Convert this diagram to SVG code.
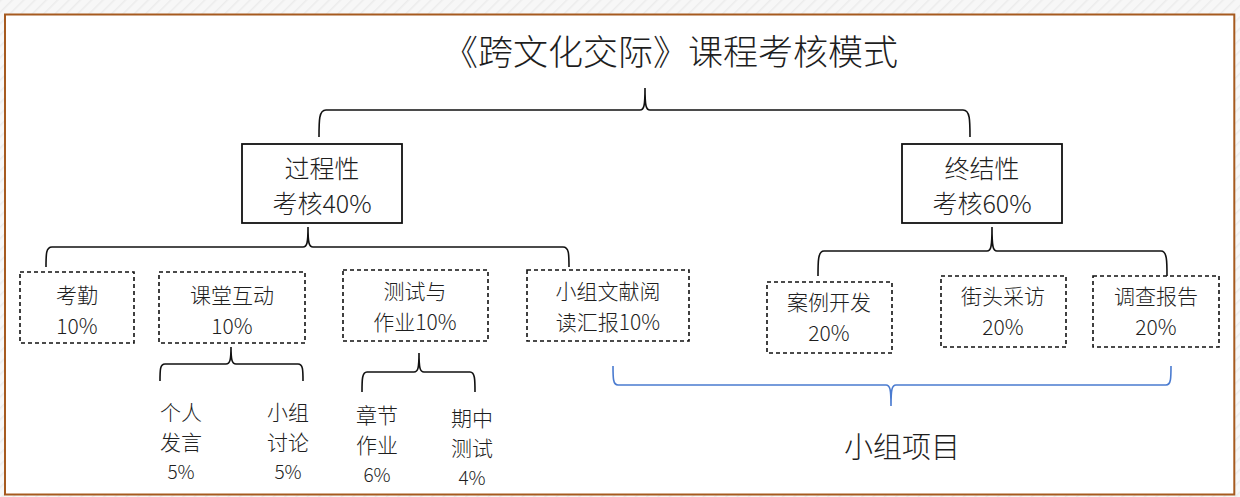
<svg xmlns="http://www.w3.org/2000/svg" width="1240" height="497" viewBox="0 0 1240 497">
<defs>
<pattern id="hatch" width="8" height="8" patternUnits="userSpaceOnUse" patternTransform="rotate(45)">
<rect width="8" height="8" fill="#f7f7f7"/>
<line x1="0" y1="0" x2="0" y2="8" stroke="#ececec" stroke-width="3"/>
</pattern>
<style>
.t{font-family:"Noto Sans CJK SC","Noto Sans",sans-serif;font-weight:300;fill:#1e1e1e;text-anchor:middle;dominant-baseline:central}
.solid{fill:#fff;stroke:#111;stroke-width:1.8}
.dash{fill:#fff;stroke:#111;stroke-width:1.6;stroke-dasharray:4 3}
.br{fill:none;stroke:#111;stroke-width:1.6}
.blue{fill:none;stroke:#4a7bd0;stroke-width:1.6}
</style>
</defs>
<rect x="0" y="0" width="1240" height="497" fill="url(#hatch)"/>
<rect x="5" y="14.5" width="1229.3" height="480" fill="#fff" stroke="#a65a1f" stroke-width="2"/>

<g id="title"><text class="t" x="443" y="49" font-size="35" style="text-anchor:start">《跨文化交际》课程考核模式</text></g>

<g id="connectors">
<path class="br" d="M319,137 C319,120 319,110 326,110 L640,110 C644,110 645,106 645,88 C645,106 646,110 650,110 L963,110 C970,110 970,120 970,137"/>
<path class="br" d="M46,267 C46,254 46,247 52,247 L303,247 C307,247 308,243 308,227 C308,243 309,247 313,247 L563,247 C569,247 569,254 569,267"/>
<path class="br" d="M818,276 C818,261 818,251 824,251 L987,251 C991,251 992,247 992,227 C992,247 993,251 997,251 L1161,251 C1167,251 1167,261 1167,276"/>
<path class="br" d="M160,381 C160,370 160,364 165,364 L226,364 C230,364 231,360 231,347 C231,360 232,364 236,364 L298,364 C303,364 303,370 303,381"/>
<path class="br" d="M362,392 C362,380 362,372 367,372 L414,372 C418,372 419,368 419,353 C419,368 420,372 424,372 L470,372 C475,372 475,380 475,392"/>
<path class="blue" d="M613,366 C613,378 613,385 618,385 L886,385 C890,385 891,389 891,406 C891,389 892,385 896,385 L1166,385 C1171,385 1171,378 1171,366"/>
</g>

<g id="n-process"><rect class="solid" x="242" y="144" width="160" height="79"/>
<text class="t" x="322" y="167" font-size="25">过程性</text><text class="t" x="322" y="202" font-size="25">考核40%</text></g>
<g id="n-summative"><rect class="solid" x="902" y="144" width="160" height="79"/>
<text class="t" x="982" y="167" font-size="25">终结性</text><text class="t" x="982" y="202" font-size="25">考核60%</text></g>

<g id="n-attendance"><rect class="dash" x="20" y="272" width="114" height="71"/>
<text class="t" x="77" y="294" font-size="21">考勤</text><text class="t" x="77" y="325" font-size="21">10%</text></g>
<g id="n-interaction"><rect class="dash" x="159" y="272" width="146" height="71"/>
<text class="t" x="232" y="294" font-size="21">课堂互动</text><text class="t" x="232" y="325" font-size="21">10%</text></g>
<g id="n-test"><rect class="dash" x="343" y="270" width="145" height="71"/>
<text class="t" x="415" y="290" font-size="21">测试与</text><text class="t" x="415" y="321" font-size="21">作业10%</text></g>
<g id="n-reading"><rect class="dash" x="527" y="270" width="162" height="71"/>
<text class="t" x="608" y="290" font-size="21">小组文献阅</text><text class="t" x="608" y="321" font-size="21">读汇报10%</text></g>

<g id="n-case"><rect class="dash" x="767" y="282" width="125" height="71"/>
<text class="t" x="829" y="301" font-size="21">案例开发</text><text class="t" x="829" y="332" font-size="21">20%</text></g>
<g id="n-street"><rect class="dash" x="941" y="276" width="125" height="71"/>
<text class="t" x="1003" y="295" font-size="21">街头采访</text><text class="t" x="1003" y="326" font-size="21">20%</text></g>
<g id="n-report"><rect class="dash" x="1093" y="276" width="126" height="71"/>
<text class="t" x="1156" y="295" font-size="21">调查报告</text><text class="t" x="1156" y="326" font-size="21">20%</text></g>

<g id="n-speech"><text class="t" x="181" y="411" font-size="21">个人</text><text class="t" x="181" y="441" font-size="21">发言</text><text class="t" x="181" y="470" font-size="19">5%</text></g>
<g id="n-discussion"><text class="t" x="288" y="411" font-size="21">小组</text><text class="t" x="288" y="441" font-size="21">讨论</text><text class="t" x="288" y="470" font-size="19">5%</text></g>
<g id="n-chapter"><text class="t" x="377" y="414" font-size="21">章节</text><text class="t" x="377" y="444" font-size="21">作业</text><text class="t" x="377" y="473" font-size="19">6%</text></g>
<g id="n-midterm"><text class="t" x="472" y="417" font-size="21">期中</text><text class="t" x="472" y="447" font-size="21">测试</text><text class="t" x="472" y="476" font-size="19">4%</text></g>

<g id="n-group"><text class="t" x="902" y="445" font-size="29">小组项目</text></g>
</svg>
